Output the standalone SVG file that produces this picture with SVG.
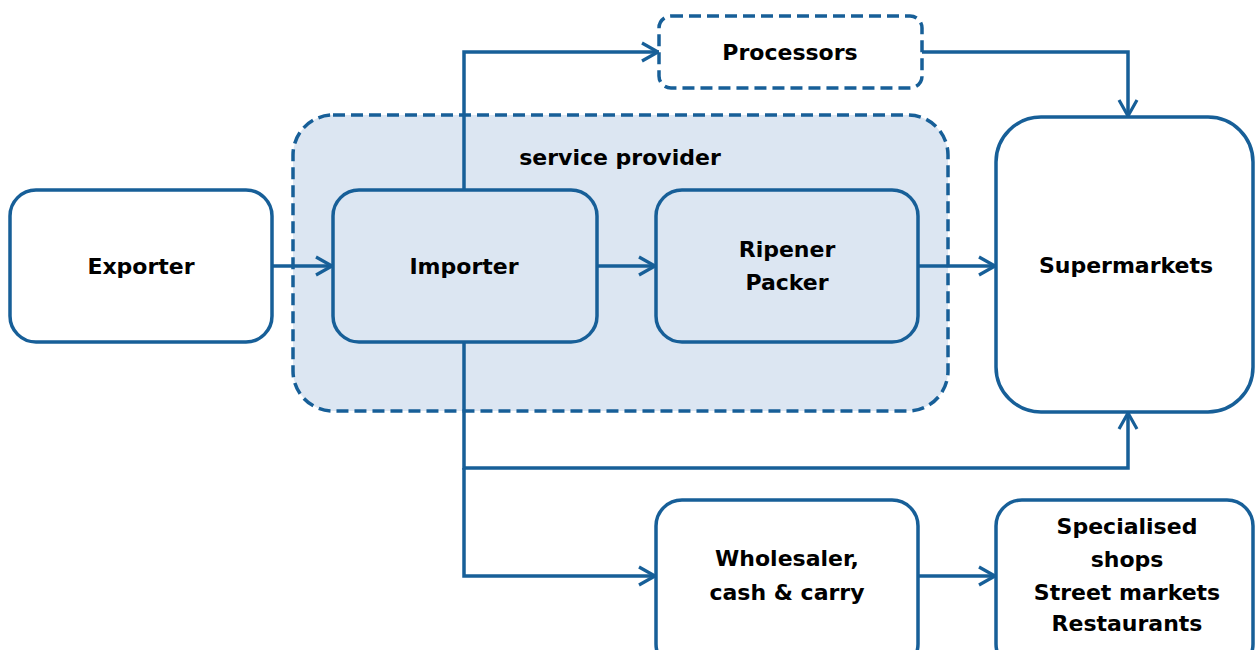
<svg xmlns="http://www.w3.org/2000/svg" width="1255" height="650" viewBox="0 0 1255 650">
  <style>
    .box { fill: #ffffff; stroke: #175f98; stroke-width: 3.5; }
    .inner { fill: #dce6f2; stroke: #175f98; stroke-width: 3.5; }
    .dash { stroke-dasharray: 12 6; }
    .lbl { font-family: "DejaVu Sans", sans-serif; font-weight: bold; font-size: 22px; fill: #000; text-anchor: middle; dominant-baseline: central; }
    .conn path { fill: none; stroke: #175f98; stroke-width: 3.5; }
  </style>
  <defs>
    <marker id="arrow" viewBox="0 0 20 22" refX="19" refY="11" markerWidth="20" markerHeight="22" markerUnits="userSpaceOnUse" orient="auto">
      <path d="M2,2 L18,11 L2,20" fill="none" stroke="#175f98" stroke-width="3.2"/>
    </marker>
  </defs>
  <rect width="1255" height="650" fill="#ffffff"/>

  <g id="service-provider">
    <rect class="inner dash" x="293" y="115" width="655" height="296" rx="40"/>
    <text class="lbl" x="620" y="157">service provider</text>
  </g>

  <g class="conn" id="connectors">
    <path d="M272,266 H333" marker-end="url(#arrow)"/>
    <path d="M597,266 H656" marker-end="url(#arrow)"/>
    <path d="M918,266 H996" marker-end="url(#arrow)"/>
    <path d="M464,190 V52 H659" marker-end="url(#arrow)"/>
    <path d="M922,52 H1128 V117" marker-end="url(#arrow)"/>
    <path d="M464,342 V468 H1128 V412" marker-end="url(#arrow)"/>
    <path d="M464,468 V576 H656" marker-end="url(#arrow)"/>
    <path d="M918,576 H996" marker-end="url(#arrow)"/>
  </g>

  <g id="exporter">
    <rect class="box" x="10" y="190" width="262" height="152" rx="26"/>
    <text class="lbl" x="141" y="266">Exporter</text>
  </g>
  <g id="importer">
    <rect class="inner" x="333" y="190" width="264" height="152" rx="26"/>
    <text class="lbl" x="464" y="266">Importer</text>
  </g>
  <g id="ripener-packer">
    <rect class="inner" x="656" y="190" width="262" height="152" rx="26"/>
    <text class="lbl" x="787" y="249">Ripener</text>
    <text class="lbl" x="787" y="282">Packer</text>
  </g>
  <g id="processors">
    <rect class="box dash" x="659" y="16" width="263" height="72" rx="12"/>
    <text class="lbl" x="790" y="52">Processors</text>
  </g>
  <g id="supermarkets">
    <rect class="box" x="996" y="117" width="257" height="295" rx="45"/>
    <text class="lbl" x="1126" y="265">Supermarkets</text>
  </g>
  <g id="wholesaler">
    <rect class="box" x="656" y="500" width="262" height="170" rx="26"/>
    <text class="lbl" x="787" y="558">Wholesaler,</text>
    <text class="lbl" x="787" y="592">cash &amp; carry</text>
  </g>
  <g id="specialised">
    <rect class="box" x="996" y="500" width="257" height="170" rx="26"/>
    <text class="lbl" x="1127" y="526">Specialised</text>
    <text class="lbl" x="1127" y="559">shops</text>
    <text class="lbl" x="1127" y="592">Street markets</text>
    <text class="lbl" x="1127" y="623">Restaurants</text>
  </g>
</svg>
